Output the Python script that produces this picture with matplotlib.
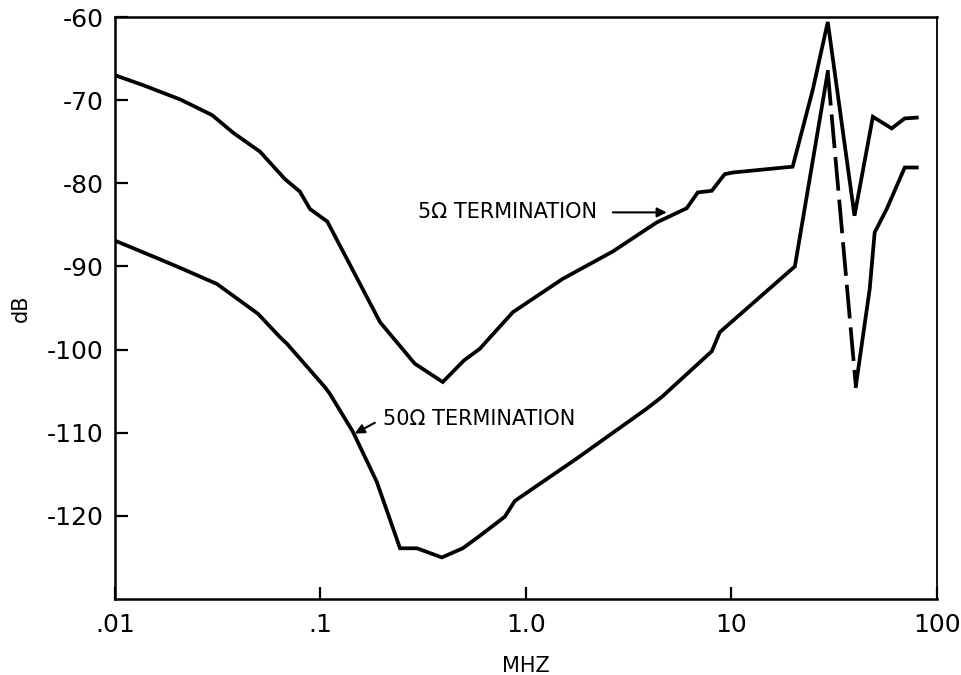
"""Crosstalk vs frequency for 5 ohm and 50 ohm terminations (log frequency axis)."""

import matplotlib

matplotlib.use("Agg")
import matplotlib.pyplot as plt

plt.rcParams["font.family"] = ["DejaVu Sans"]
plt.rcParams["axes.unicode_minus"] = False

# 5 ohm termination (upper curve)
freq_5 = [0.01, 0.0137, 0.0207, 0.0297, 0.0375, 0.0508, 0.0672, 0.0794, 0.089,
          0.108, 0.195, 0.288, 0.394, 0.50, 0.597, 0.706, 0.865, 1.51, 2.65,
          4.34, 6.07, 6.87, 8.04, 9.29, 10.2, 19.9, 24.9, 29.5, 39.8, 48.9,
          60.4, 69.8, 80.0]
db_5 = [-67.0, -68.2, -69.9, -71.8, -73.9, -76.2, -79.5, -81.0, -83.1,
        -84.6, -96.7, -101.7, -103.9, -101.3, -99.9, -97.9, -95.5, -91.5, -88.2,
        -84.7, -83.0, -81.1, -80.9, -78.9, -78.7, -78.0, -68.8, -60.6, -83.9, -72.0,
        -73.4, -72.2, -72.1]

# 50 ohm termination (lower curve), solid up to the resonance peak
freq_50 = [0.01, 0.0137, 0.02, 0.0313, 0.0497, 0.0635, 0.0687, 0.105, 0.111,
           0.144, 0.188, 0.244, 0.295, 0.39, 0.493, 0.597, 0.79, 0.884, 1.77,
           3.88, 4.59, 8.04, 8.8, 20.4, 29.5]
db_50 = [-86.9, -88.3, -90.0, -92.1, -95.7, -98.5, -99.3, -104.5, -105.3,
         -109.9, -115.9, -123.9, -123.9, -125.0, -123.9, -122.4, -120.1, -118.2, -113.1,
         -107.1, -105.7, -100.2, -97.9, -90.0, -66.6]
# dashed drop into the notch, then solid again
freq_50_dash = [29.5, 40.4]
db_50_dash = [-66.6, -104.4]
freq_50_tail = [40.4, 47.2, 49.9, 57.1, 69.9, 80.0]
db_50_tail = [-104.4, -92.7, -85.9, -83.1, -78.1, -78.1]

x_ticks = [0.01, 0.1, 1.0, 10, 100]
x_tick_labels = [".01", ".1", "1.0", "10", "100"]
y_ticks = [-60, -70, -80, -90, -100, -110, -120]
y_tick_labels = ["-60", "-70", "-80", "-90", "-100", "-110", "-120"]

fig = plt.figure(figsize=(9.61, 6.75), dpi=100)
ax = fig.add_axes([0.1197, 0.1126, 0.855, 0.8622])

lw = 2.7
ax.plot(freq_5, db_5, color="black", lw=lw, solid_joinstyle="miter")
ax.plot(freq_50, db_50, color="black", lw=lw, solid_joinstyle="miter")
ax.plot(freq_50_dash, db_50_dash, color="black", lw=lw, dashes=(9, 2.4))
ax.plot(freq_50_tail, db_50_tail, color="black", lw=lw, solid_joinstyle="miter")

ax.set_xscale("log")
ax.set_xlim(0.01, 100)
ax.set_ylim(-130, -60)
ax.set_xticks(x_ticks, x_tick_labels)
ax.set_yticks(y_ticks, y_tick_labels)
ax.minorticks_off()
ax.tick_params(axis="both", direction="in", length=9, width=1.6, labelsize=18)
ax.tick_params(axis="x", pad=10)
ax.tick_params(axis="y", pad=8)
for side in ("left", "bottom", "top"):
    ax.spines[side].set_linewidth(1.8)
ax.spines["right"].set_linewidth(1.3)

ax.set_xlabel("MHZ", fontsize=15, labelpad=14)
fig.text(21 / 961, 1 - 308 / 675, "dB", fontsize=15, rotation=90,
         ha="center", va="center")

ax.text(0.298, -83.4, "5\u2126 TERMINATION", fontsize=15, ha="left", va="center")
ax.annotate("", xy=(4.85, -83.5), xytext=(2.65, -83.5),
            arrowprops=dict(arrowstyle="-|>", color="black", lw=1.5,
                            mutation_scale=14, shrinkA=0, shrinkB=0))
ax.text(0.201, -108.3, "50\u2126 TERMINATION", fontsize=15, ha="left", va="center")
ax.annotate("", xy=(0.147, -110.1), xytext=(0.184, -108.8),
            arrowprops=dict(arrowstyle="-|>", color="black", lw=1.5,
                            mutation_scale=14, shrinkA=0, shrinkB=0))

fig.savefig("out.png", dpi=100)
